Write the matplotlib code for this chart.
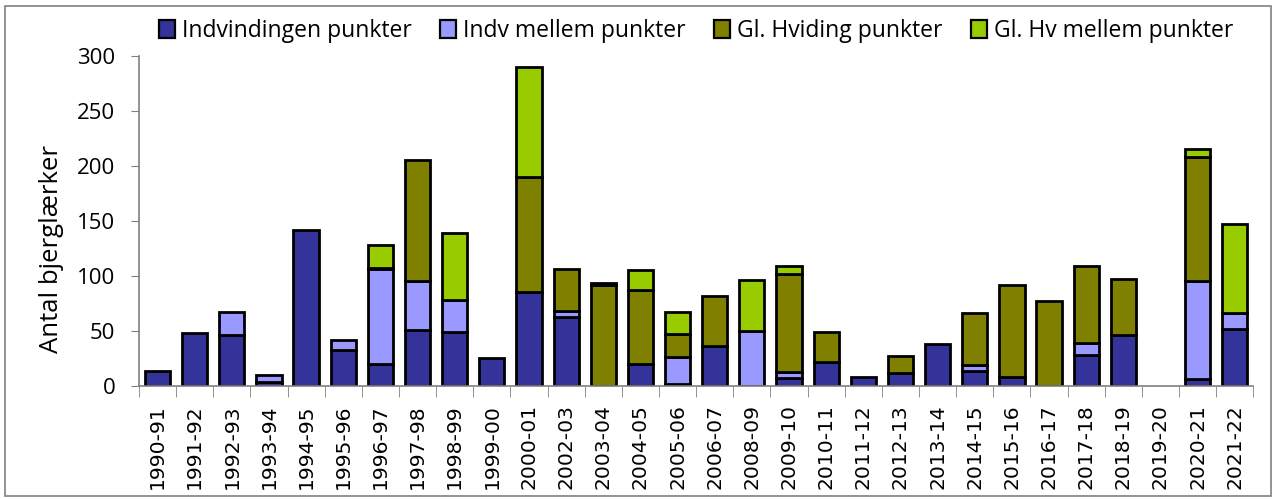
import matplotlib.pyplot as plt
import numpy as np
from matplotlib.patches import Rectangle

# seasons on the x axis
seasons = ["1990-91", "1991-92", "1992-93", "1993-94", "1994-95", "1995-96",
           "1996-97", "1997-98", "1998-99", "1999-00", "2000-01", "2002-03",
           "2003-04", "2004-05", "2005-06", "2006-07", "2008-09", "2009-10",
           "2010-11", "2011-12", "2012-13", "2013-14", "2014-15", "2015-16",
           "2016-17", "2017-18", "2018-19", "2019-20", "2020-21", "2021-22"]

indv_punkter = [14, 48, 46, 4, 142, 33, 20, 51, 49, 25, 85, 63, 0, 20, 2,
                36, 0, 7, 22, 8, 12, 38, 14, 8, 0, 28, 46, 0, 6, 52]
indv_mellem = [0, 0, 21, 6, 0, 9, 86, 44, 29, 0, 0, 5, 0, 0, 24,
               0, 50, 6, 0, 0, 0, 0, 5, 0, 0, 11, 0, 0, 89, 14]
glh_punkter = [0, 0, 0, 0, 0, 0, 1, 110, 0, 0, 105, 38, 92, 67, 21,
               46, 0, 89, 27, 0, 15, 0, 47, 84, 77, 70, 51, 0, 113, 0]
glh_mellem = [0, 0, 0, 0, 0, 0, 21, 0, 61, 0, 100, 0, 2, 18, 20,
              0, 46, 7, 0, 0, 0, 0, 0, 0, 0, 0, 0, 0, 7, 81]

series = [("Indvindingen punkter", indv_punkter, "#333399"),
          ("Indv mellem punkter", indv_mellem, "#9999FF"),
          ("Gl. Hviding punkter", glh_punkter, "#808000"),
          ("Gl. Hv mellem punkter", glh_mellem, "#99CC00")]

font = "Open Sans"

fig = plt.figure(figsize=(12.75, 4.99), dpi=100)
ax = fig.add_axes([0.109, 0.2265, 0.874, 0.6615])

x = np.arange(len(seasons))
bottom = np.zeros(len(seasons))
for name, vals, col in series:
    v = np.array(vals, dtype=float)
    h = np.where(v > 0, v, np.nan)   # skip empty segments
    ax.bar(x, h, 0.68, bottom=bottom, color=col, edgecolor="black",
           linewidth=2.0, label=name)
    bottom += v

ax.set_xlim(-0.5, len(seasons) - 0.5)
ax.set_ylim(0, 300)
ax.set_yticks(range(0, 301, 50))
ax.set_yticklabels([str(t) for t in range(0, 301, 50)], fontfamily=font, fontsize=16)
ax.set_xticks(x)
ax.set_xticklabels(seasons, rotation=90, fontfamily="DejaVu Sans", fontsize=14.6)
ax.set_xticks(np.arange(-0.5, len(seasons)), minor=True)
ax.tick_params(axis="x", which="major", length=0, pad=13)
ax.tick_params(axis="x", which="minor", length=8, color="#808080", direction="out")
ax.tick_params(axis="y", length=6, color="#808080", direction="out", pad=11)

for s in ["top", "right"]:
    ax.spines[s].set_visible(False)
for s in ["left", "bottom"]:
    ax.spines[s].set_color("#808080")
    ax.spines[s].set_linewidth(1.2)

ax.set_ylabel("Antal bjerglærker", fontfamily=font, fontsize=18.5)
ax.yaxis.set_label_coords(-0.067, 0.415)

leg = ax.legend(loc="center", bbox_to_anchor=(0.5, 1.075), ncol=4,
                frameon=False, handlelength=0.7, handleheight=0.85,
                handletextpad=0.3, columnspacing=1.25,
                prop={"family": font, "size": 16.5})
for p in leg.get_patches():
    p.set_linewidth(1.6)

# chart area border
fig.patches.append(Rectangle((0.004, 0.006), 0.993, 0.982, transform=fig.transFigure,
                             fill=False, edgecolor="#808080", linewidth=1.2))

fig.savefig("out.png", dpi=100)
